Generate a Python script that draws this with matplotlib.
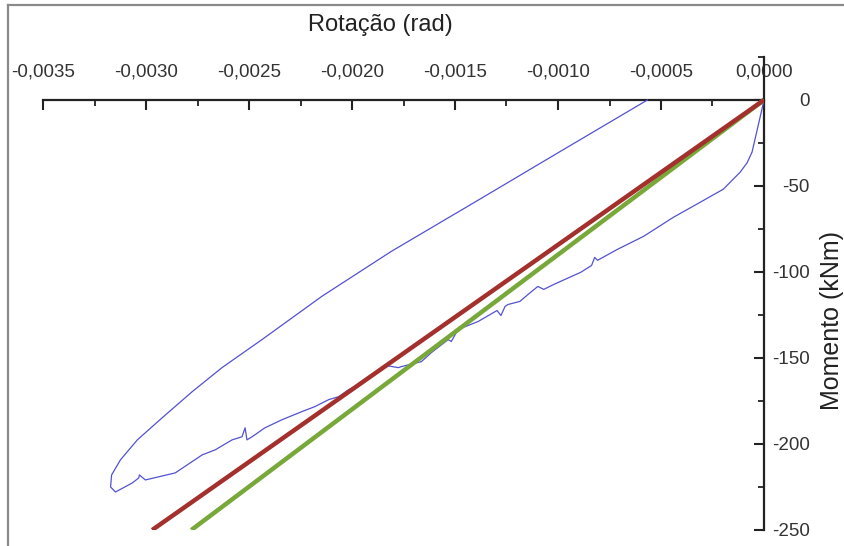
import matplotlib
matplotlib.use("Agg")
import matplotlib.pyplot as plt
from matplotlib.ticker import MultipleLocator, FuncFormatter
from matplotlib.lines import Line2D

plt.rcParams['font.family'] = ['Liberation Sans', 'DejaVu Sans']

# measured moment-rotation loop (rad, kNm)
rot = [0.0, -0.0000097, -0.000029, -0.000058, -0.000082, -0.000116, -0.000198, -0.000309,
       -0.000440, -0.000585, -0.000711, -0.000808, -0.000822, -0.000837, -0.000890,
       -0.001020, -0.001069, -0.001098, -0.001146, -0.001185, -0.001243, -0.001257,
       -0.001277, -0.001296, -0.001388, -0.001485, -0.001518, -0.001533, -0.001615,
       -0.001663, -0.001760, -0.001775, -0.001833, -0.001881, -0.001968, -0.002016,
       -0.002065, -0.002113, -0.002181, -0.002244, -0.002340, -0.002423, -0.002485,
       -0.002510, -0.002519, -0.002534, -0.002582, -0.002664, -0.002727, -0.002858,
       -0.003003, -0.003032, -0.003035, -0.003066, -0.003148, -0.003172,
       -0.003167, -0.003124, -0.003042, -0.002921, -0.002776, -0.002631, -0.002437,
       -0.002147, -0.001809, -0.001397, -0.000986, -0.000566]
mom = [0.0, -5.2, -15.2, -30.3, -36.5, -42.0, -51.9, -59.4,
       -68.2, -79.3, -86.8, -93.2, -91.5, -96.2, -100.2,
       -107.2, -110.1, -108.4, -113.1, -117.1, -118.9, -120.0,
       -125.3, -122.4, -128.8, -133.4, -140.4, -139.3, -146.9,
       -152.1, -155.0, -155.6, -154.4, -157.9, -165.5, -168.4,
       -172.5, -174.2, -178.3, -181.2, -185.9, -190.6, -195.8,
       -197.6, -190.6, -195.8, -197.6, -203.4, -206.3, -216.8,
       -220.9, -218.0, -219.7, -222.6, -227.9, -225.0,
       -218.0, -209.2, -197.6, -184.7, -169.6, -155.6, -139.3,
       -114.2, -88.0, -58.9, -29.7, 0.0]

# stiffness lines
red_rot = [0.0, -0.00297]
red_mom = [0.0, -250.0]
green_rot = [0.0, -0.00278]
green_mom = [0.0, -250.0]

fig = plt.figure(figsize=(8.44, 5.46), dpi=100)
ax = fig.add_axes([43 / 844, 16 / 546, 721 / 844, 473 / 546])

ax.plot(rot, mom, color='#5252d2', lw=0.9, zorder=3)
ax.plot(green_rot, green_mom, color='#78a83a', lw=3.2, zorder=4, solid_capstyle='butt')
ax.plot(red_rot, red_mom, color='#a3302c', lw=3.2, zorder=5, solid_capstyle='butt')

ax.set_xlim(-0.0035, 0.0)
ax.set_ylim(-250, 25)

ax.spines['left'].set_visible(False)
ax.spines['bottom'].set_visible(False)
ax.spines['top'].set_position(('data', 0))
ax.spines['top'].set_linewidth(1.6)
ax.spines['right'].set_linewidth(1.6)
ax.spines['top'].set_color('#222222')
ax.spines['right'].set_color('#222222')

ax.xaxis.tick_top()
ax.yaxis.tick_right()
ax.xaxis.set_major_locator(MultipleLocator(0.0005))
ax.xaxis.set_minor_locator(MultipleLocator(0.00025))
ax.yaxis.set_major_locator(MultipleLocator(50))
ax.yaxis.set_minor_locator(MultipleLocator(25))
ax.xaxis.set_major_formatter(FuncFormatter(lambda v, p: f"{v:.4f}".replace('.', ',').replace('-0,0000', '0,0000')))
ax.yaxis.set_major_formatter(FuncFormatter(lambda v, p: f"{int(round(v))}"))

ax.tick_params(axis='x', which='major', direction='in', length=7, width=1.5,
               pad=14, labelsize=13.5, labelcolor='#333333', color='#222222')
ax.tick_params(axis='x', which='minor', direction='in', length=4, width=1.3, color='#222222')
ax.tick_params(axis='y', which='major', direction='in', length=7, width=1.5,
               pad=33, labelsize=13.5, labelcolor='#333333', color='#222222')
ax.tick_params(axis='y', which='minor', direction='in', length=4, width=1.3, color='#222222')
for lab in ax.get_yticklabels():
    lab.set_horizontalalignment('right')

fig.text(380 / 844, 1 - 25 / 546, 'Rotação (rad)', ha='center', va='center',
         fontsize=17, color='#222222')
fig.text(832 / 844, 1 - 320 / 546, 'Momento (kNm)', ha='center', va='center',
         rotation=90, fontsize=18, color='#222222')

# grey frame around the picture
fig.add_artist(Line2D([8 / 844, 1.0], [1 - 5 / 546, 1 - 5 / 546], color='#8a8a8a', lw=1.6))
fig.add_artist(Line2D([8 / 844, 8 / 844], [0.0, 1 - 5 / 546], color='#8a8a8a', lw=1.6))

fig.savefig('out.png', dpi=100, facecolor='white')
